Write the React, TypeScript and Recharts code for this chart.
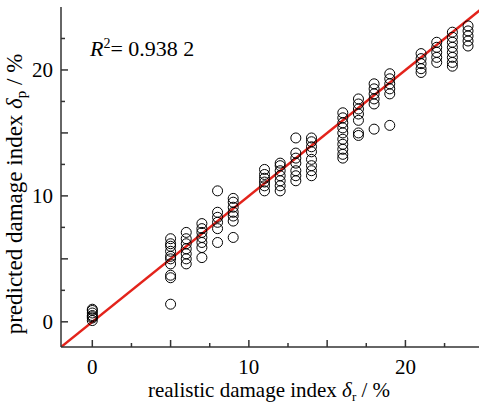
import { ScatterChart, Scatter, XAxis, YAxis, ReferenceLine } from 'recharts';

// realistic damage index levels (x) and the predicted values read at each level (y)
const realisticLevels = [0, 5, 6, 7, 8, 9, 11, 12, 13, 14, 16, 17, 18, 19, 21, 22, 23, 24];
const predictedByLevel = [
  [0.1, 0.3, 0.4, 0.5, 0.7, 0.9, 1.0],
  [6.6, 6.2, 6.0, 5.6, 5.2, 5.0, 4.6, 3.7, 3.5, 1.4],
  [7.1, 6.6, 6.2, 5.8, 5.4, 5.0, 4.6],
  [7.8, 7.4, 7.1, 6.7, 6.3, 5.9, 5.1],
  [10.4, 8.7, 8.3, 7.9, 7.4, 6.3],
  [9.8, 9.5, 9.1, 8.7, 8.4, 8.0, 6.7],
  [12.1, 11.7, 11.4, 11.1, 10.8, 10.4],
  [12.6, 12.4, 12.0, 11.6, 11.2, 10.8, 10.4],
  [14.6, 13.4, 13.0, 12.6, 12.0, 11.6, 11.2],
  [14.6, 14.3, 13.9, 13.5, 12.9, 12.4, 12.0, 11.6],
  [16.6, 16.2, 15.8, 15.4, 15.0, 14.5, 14.1, 13.7, 13.3, 13.0],
  [17.7, 17.3, 16.9, 16.5, 16.0, 15.0, 14.8],
  [18.9, 18.5, 18.1, 17.7, 17.3, 15.3],
  [19.7, 19.3, 18.9, 18.5, 18.1, 15.6],
  [21.3, 20.9, 20.5, 20.1, 19.8],
  [22.2, 21.8, 21.4, 21.0, 20.6],
  [23.0, 22.6, 22.2, 21.8, 21.4, 21.0, 20.6, 20.3],
  [23.5, 23.1, 22.7, 22.3, 21.9],
];
const fitLine = [{ x: -2, y: -2 }, { x: 25, y: 25 }];
const axisTicks = [0, 2.5, 5, 7.5, 10, 12.5, 15, 17.5, 20, 22.5];
const labelledTicks = [0, 10, 20];

const points = realisticLevels.flatMap((lvl, i) =>
  predictedByLevel[i].map((v) => ({ real: lvl, pred: v }))
);

const FONT = '"Liberation Serif", "Times New Roman", serif';
const AXIS = '#333';

const XTick = (props: any) => {
  const { x, y, payload } = props;
  const v = payload.value;
  const len = v % 5 === 0 ? 7 : 4;
  return (
    <g>
      <line x1={x} x2={x} y1={y} y2={y - len} stroke={AXIS} strokeWidth={1.5} />
      {labelledTicks.includes(v) && (
        <text x={x} y={y + 27} textAnchor="middle" fontFamily={FONT} fontSize={21} fill="#000">
          {v}
        </text>
      )}
    </g>
  );
};

const YTick = (props: any) => {
  const { x, y, payload } = props;
  const v = payload.value;
  const len = v % 5 === 0 ? 7 : 4;
  return (
    <g>
      <line x1={x} x2={x + len} y1={y} y2={y} stroke={AXIS} strokeWidth={1.5} />
      {labelledTicks.includes(v) && (
        <text x={x - 8} y={y} dy="0.35em" textAnchor="end" fontFamily={FONT} fontSize={21} fill="#000">
          {v}
        </text>
      )}
    </g>
  );
};

const Labels = () => (
  <g>
    <text x={269} y={397} textAnchor="middle" fontFamily={FONT} fontSize={21} fill="#000">
      realistic damage index <tspan fontStyle="italic">δ</tspan>
      <tspan fontSize={13} dy={4}>r</tspan>
      <tspan dy={-4}> / %</tspan>
    </text>
    <text
      x={22}
      y={194}
      textAnchor="middle"
      fontFamily={FONT}
      fontSize={23}
      fill="#000"
      transform="rotate(-90 22 194)"
    >
      predicted damage index <tspan fontStyle="italic">δ</tspan>
      <tspan fontSize={15} dy={4}>p</tspan>
      <tspan dy={-4}> / %</tspan>
    </text>
    <text x={90} y={56} fontFamily={FONT} fontSize={22} fill="#000">
      <tspan fontStyle="italic">R</tspan>
      <tspan fontSize={14} dy={-8}>2</tspan>
      <tspan dy={8}>= 0.938 2</tspan>
    </text>
  </g>
);

const Ring = (props: any) => (
  <circle cx={props.cx} cy={props.cy} r={5} fill="none" stroke="#000" strokeWidth={1} />
);

export default function App() {
  return (
    <div style={{ position: 'absolute', left: 0, top: 0, background: '#fff' }}>
      <ScatterChart width={480} height={404} margin={{ top: 7, right: 1, bottom: 0, left: 0 }}>
        <XAxis
          type="number"
          dataKey="real"
          domain={[-2, 24.7]}
          ticks={axisTicks}
          tickLine={false}
          tickSize={0}
          tickMargin={0}
          tick={<XTick />}
          height={57}
          axisLine={{ stroke: AXIS, strokeWidth: 1.5 }}
          allowDataOverflow
          label={<Labels />}
        />
        <XAxis
          xAxisId="top"
          orientation="top"
          type="number"
          domain={[-2, 24.7]}
          tick={false}
          tickLine={false}
          height={0}
          axisLine={{ stroke: AXIS, strokeWidth: 1.5 }}
        />
        <YAxis
          type="number"
          dataKey="pred"
          domain={[-2, 25]}
          ticks={axisTicks}
          tickLine={false}
          tickSize={0}
          tickMargin={0}
          tick={<YTick />}
          width={61}
          axisLine={{ stroke: AXIS, strokeWidth: 1.5 }}
          allowDataOverflow
        />
        <ReferenceLine
          segment={fitLine}
          stroke="#e3231b"
          strokeWidth={2.5}
          ifOverflow="hidden"
        />
        <Scatter data={points} shape={<Ring />} isAnimationActive={false} />
      </ScatterChart>
    </div>
  );
}
